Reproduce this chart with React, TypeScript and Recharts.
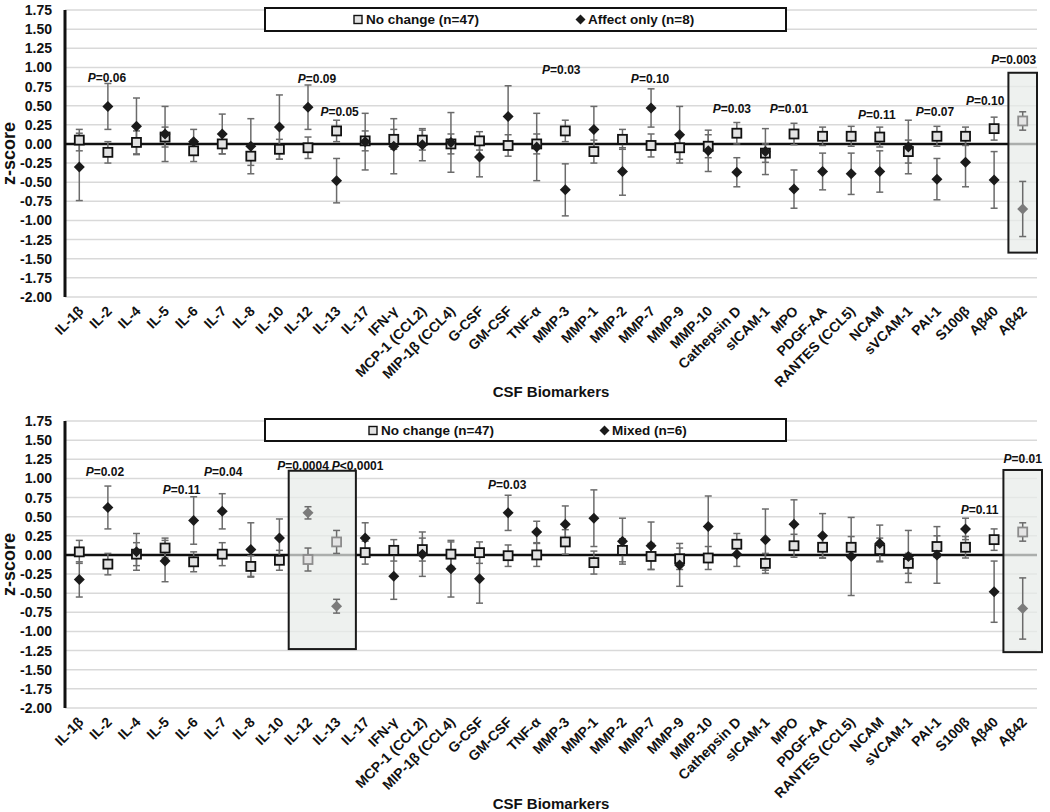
import {
  CartesianGrid,
  ComposedChart,
  ErrorBar,
  Line,
  ReferenceArea,
  ReferenceDot,
  ReferenceLine,
  XAxis,
  YAxis,
} from "recharts";

const FONT = '"Liberation Sans", Arial, Helvetica, sans-serif';

const categories = [
  "IL-1β", "IL-2", "IL-4", "IL-5", "IL-6", "IL-7", "IL-8", "IL-10", "IL-12", "IL-13",
  "IL-17", "IFN-γ", "MCP-1 (CCL2)", "MIP-1β (CCL4)", "G-CSF", "GM-CSF", "TNF-α", "MMP-3",
  "MMP-1", "MMP-2", "MMP-7", "MMP-9", "MMP-10", "Cathepsin D", "sICAM-1", "MPO",
  "PDGF-AA", "RANTES (CCL5)", "NCAM", "sVCAM-1", "PAI-1", "S100β", "Aβ40", "Aβ42",
];

// panel A: no change vs affect only
const noChangeA = [
  0.05, -0.11, 0.02, 0.09, -0.09, 0.0, -0.16, -0.07, -0.05, 0.17,
  0.04, 0.06, 0.05, 0.0, 0.04, -0.02, 0.0, 0.17,
  -0.1, 0.06, -0.02, -0.05, -0.03, 0.14, -0.12, 0.13,
  0.1, 0.1, 0.09, -0.1, 0.1, 0.1, 0.2, 0.3,
];
const noChangeAErr = [
  0.14, 0.14, 0.15, 0.13, 0.14, 0.13, 0.12, 0.13, 0.14, 0.14,
  0.13, 0.13, 0.13, 0.13, 0.12, 0.14, 0.13, 0.14,
  0.15, 0.13, 0.15, 0.15, 0.15, 0.14, 0.12, 0.14,
  0.12, 0.13, 0.13, 0.15, 0.13, 0.12, 0.15, 0.12,
];
const affectOnly = [
  -0.3, 0.49, 0.23, 0.13, 0.03, 0.13, -0.03, 0.22, 0.48, -0.48,
  0.03, -0.03, -0.01, 0.02, -0.17, 0.36, -0.04, -0.6,
  0.19, -0.36, 0.47, 0.12, -0.09, -0.37, -0.1, -0.59,
  -0.36, -0.39, -0.36, -0.04, -0.46, -0.24, -0.47, -0.85,
];
const affectOnlyErr = [
  0.44, 0.3, 0.37, 0.36, 0.16, 0.26, 0.36, 0.42, 0.29, 0.29,
  0.37, 0.36, 0.21, 0.39, 0.26, 0.4, 0.44, 0.34,
  0.3, 0.31, 0.25, 0.37, 0.27, 0.19, 0.3, 0.25,
  0.24, 0.27, 0.27, 0.35, 0.27, 0.32, 0.37, 0.36,
];

// panel B: no change vs mixed
const noChangeB = [
  0.04, -0.12, 0.01, 0.09, -0.09, 0.01, -0.15, -0.07, -0.06, 0.17,
  0.03, 0.06, 0.07, 0.01, 0.03, -0.01, 0.0, 0.17,
  -0.1, 0.06, -0.02, -0.05, -0.04, 0.14, -0.11, 0.12,
  0.1, 0.1, 0.07, -0.11, 0.11, 0.1, 0.2, 0.3,
];
const noChangeBErr = [
  0.15, 0.14, 0.15, 0.13, 0.13, 0.15, 0.14, 0.13, 0.15, 0.15,
  0.15, 0.14, 0.15, 0.16, 0.14, 0.14, 0.15, 0.16,
  0.15, 0.15, 0.17, 0.14, 0.15, 0.14, 0.13, 0.15,
  0.14, 0.14, 0.15, 0.13, 0.14, 0.14, 0.14, 0.12,
];
const mixed = [
  -0.32, 0.62, 0.04, -0.08, 0.45, 0.57, 0.07, 0.22, 0.55, -0.67,
  0.22, -0.28, 0.01, -0.18, -0.31, 0.55, 0.3, 0.4,
  0.48, 0.18, 0.12, -0.13, 0.37, 0.01, 0.2, 0.4,
  0.25, -0.02, 0.15, -0.02, 0.0, 0.34, -0.48, -0.7,
];
const mixedErr = [
  0.23, 0.28, 0.24, 0.27, 0.31, 0.23, 0.35, 0.25, 0.08, 0.09,
  0.2, 0.3, 0.29, 0.37, 0.32, 0.23, 0.14, 0.24,
  0.37, 0.3, 0.31, 0.28, 0.4, 0.16, 0.4, 0.32,
  0.29, 0.51, 0.24, 0.34, 0.37, 0.14, 0.4, 0.4,
];

const yTicks = [-2, -1.75, -1.5, -1.25, -1, -0.75, -0.5, -0.25, 0, 0.25, 0.5, 0.75, 1, 1.25, 1.5, 1.75];

type Note = { at: string; text: string; y: number; dx: number };

const notesA: Note[] = [
  { at: "IL-2", text: "=0.06", y: 0.87, dx: -1 },
  { at: "IL-12", text: "=0.09", y: 0.85, dx: 9 },
  { at: "IL-13", text: "=0.05", y: 0.42, dx: 3 },
  { at: "MMP-3", text: "=0.03", y: 0.97, dx: -4 },
  { at: "MMP-7", text: "=0.10", y: 0.85, dx: -1 },
  { at: "Cathepsin D", text: "=0.03", y: 0.46, dx: -5 },
  { at: "MPO", text: "=0.01", y: 0.46, dx: -5 },
  { at: "NCAM", text: "=0.11", y: 0.38, dx: -3 },
  { at: "PAI-1", text: "=0.07", y: 0.42, dx: -2 },
  { at: "Aβ40", text: "=0.10", y: 0.57, dx: -9 },
  { at: "Aβ42", text: "=0.003", y: 1.1, dx: -9 },
];

const notesB: Note[] = [
  { at: "IL-2", text: "=0.02", y: 1.08, dx: -3 },
  { at: "IL-6", text: "=0.11", y: 0.85, dx: -12 },
  { at: "IL-7", text: "=0.04", y: 1.08, dx: 1 },
  { at: "IL-12", text: "=0.0004", y: 1.16, dx: -5 },
  { at: "IL-13", text: "<0.0001", y: 1.16, dx: 21 },
  { at: "GM-CSF", text: "=0.03", y: 0.91, dx: -1 },
  { at: "S100β", text: "=0.11", y: 0.59, dx: 14 },
  { at: "Aβ42", text: "=0.01", y: 1.25, dx: 0 },
];

type Box = { x1: string; x2: string; y1: number; y2: number };
const boxesA: Box[] = [{ x1: "Aβ42", x2: "Aβ42", y1: -1.42, y2: 0.93 }];
const boxesB: Box[] = [
  { x1: "IL-12", x2: "IL-13", y1: -1.23, y2: 1.1 },
  { x1: "Aβ42", x2: "Aβ42", y1: -1.27, y2: 1.11 },
];

const XTick = (props: any) => {
  const { x, y, payload } = props;
  const tx = x + 5;
  const ty = y + 7;
  return (
    <text
      x={tx}
      y={ty}
      transform={`rotate(-45, ${tx}, ${ty})`}
      textAnchor="end"
      fontFamily={FONT}
      fontWeight="bold"
      fontSize={14}
      fill="#111"
    >
      {payload.value}
    </text>
  );
};

const SquareMark = ({ cx, cy, hi }: { cx: number; cy: number; hi: boolean }) => (
  <rect
    x={cx - 4.5}
    y={cy - 4.5}
    width={9}
    height={9}
    fill={hi ? "#e4e4e4" : "#e2e2e2"}
    stroke={hi ? "#8c8c8c" : "#111"}
    strokeWidth={1.8}
  />
);

const DiamondMark = ({ cx, cy, hi }: { cx: number; cy: number; hi: boolean }) => (
  <path
    d={`M${cx},${cy - 5.5} L${cx + 5.5},${cy} L${cx},${cy + 5.5} L${cx - 5.5},${cy} Z`}
    fill={hi ? "#7b7b7b" : "#1b1b1b"}
  />
);

interface LegendItem {
  left: number;
  label: string;
  kind: "square" | "diamond";
}

function LegendBox({ top, height, items }: { top: number; height: number; items: LegendItem[] }) {
  return (
    <div
      style={{
        position: "absolute",
        left: 264,
        top,
        width: 523,
        height,
        border: "2px solid #111",
        boxSizing: "border-box",
        background: "#fff",
      }}
    >
      {items.map((it) => (
        <div
          key={it.label}
          style={{
            position: "absolute",
            left: it.left,
            top: 0,
            height: height - 4,
            display: "flex",
            alignItems: "center",
            fontFamily: FONT,
            fontWeight: "bold",
            fontSize: 13.5,
            color: "#111",
            whiteSpace: "nowrap",
          }}
        >
          <svg width={11} height={11} style={{ marginRight: 2 }}>
            {it.kind === "square" ? (
              <rect x={1} y={1.5} width={8} height={8} fill="#e2e2e2" stroke="#111" strokeWidth={1.4} />
            ) : (
              <path d="M5.5,0.5 L10.5,5.5 L5.5,10.5 L0.5,5.5 Z" fill="#1b1b1b" />
            )}
          </svg>
          <span>{it.label}</span>
        </div>
      ))}
    </div>
  );
}

interface PanelProps {
  height: number;
  marginTop: number;
  sq: number[];
  sqErr: number[];
  dm: number[];
  dmErr: number[];
  notes: Note[];
  boxes: Box[];
  boxPad: number;
  legendTop: number;
  legendHeight: number;
  legend: LegendItem[];
}

function Panel(props: PanelProps) {
  const { height, marginTop, sq, sqErr, dm, dmErr, notes, boxes, boxPad } = props;
  const data = categories.map((name, i) => ({
    name,
    nc: sq[i],
    ncErr: sqErr[i],
    grp: dm[i],
    grpErr: dmErr[i],
  }));
  const hi = new Set<string>();
  boxes.forEach((b) => {
    const a = categories.indexOf(b.x1);
    const z = categories.indexOf(b.x2);
    for (let i = a; i <= z; i++) hi.add(categories[i]);
  });
  const plotH = 287;
  const axisH = height - marginTop - plotH;

  return (
    <div style={{ position: "relative", width: 1050, height }}>
      <ComposedChart
        width={1050}
        height={height}
        data={data}
        margin={{ top: marginTop, right: 13, bottom: 0, left: 0 }}
      >
        <CartesianGrid vertical={false} stroke="#d9d9d9" strokeWidth={1.5} />
        <XAxis
          dataKey="name"
          scale="band"
          interval={0}
          axisLine={false}
          tickLine={false}
          height={axisH}
          tick={<XTick />}
          label={{
            content: (p: any) => {
              const vb = p.viewBox;
              return (
                <text
                  x={vb.x + vb.width / 2}
                  y={vb.y + vb.height - 3}
                  textAnchor="middle"
                  fontFamily={FONT}
                  fontWeight="bold"
                  fontSize={15}
                  fill="#111"
                >
                  CSF Biomarkers
                </text>
              );
            },
          }}
        />
        <YAxis
          width={65}
          domain={[-2, 1.75]}
          ticks={yTicks}
          interval={0}
          allowDataOverflow
          tickFormatter={(v: number) => v.toFixed(2)}
          tickLine={false}
          tickMargin={7}
          axisLine={{ stroke: "#111", strokeWidth: 3 }}
          tick={{ fill: "#111", fontSize: 14, fontWeight: "bold", fontFamily: FONT }}
          label={{
            content: (p: any) => {
              const vb = p.viewBox;
              const cy = vb.y + vb.height / 2;
              return (
                <text
                  x={15}
                  y={cy}
                  transform={`rotate(-90, 15, ${cy})`}
                  textAnchor="middle"
                  fontFamily={FONT}
                  fontWeight="bold"
                  fontSize={18}
                  fill="#111"
                >
                  z-score
                </text>
              );
            },
          }}
        />
        <ReferenceLine y={0} stroke="#111" strokeWidth={2.5} zIndex={50} />
        {boxes.map((b) => (
          <ReferenceArea
            key={b.x1 + b.x2}
            x1={b.x1}
            x2={b.x2}
            y1={b.y1}
            y2={b.y2}
            zIndex={60}
            shape={(p: any) => (
              <rect
                x={p.x - boxPad}
                y={p.y}
                width={p.width + boxPad * 2}
                height={p.height}
                fill="#e8ebe9"
                fillOpacity={0.72}
                stroke="#1a1a1a"
                strokeWidth={2}
              />
            )}
          />
        ))}
        <Line
          dataKey="nc"
          stroke="none"
          isAnimationActive={false}
          activeDot={false}
          dot={(p: any) => (
            <SquareMark key={`s${p.index}`} cx={p.cx} cy={p.cy} hi={hi.has(p.payload.name)} />
          )}
        >
          <ErrorBar dataKey="ncErr" width={3.5} stroke="#6b6b6b" strokeWidth={1.5} />
        </Line>
        <Line
          dataKey="grp"
          stroke="none"
          isAnimationActive={false}
          activeDot={false}
          dot={(p: any) => (
            <DiamondMark key={`d${p.index}`} cx={p.cx} cy={p.cy} hi={hi.has(p.payload.name)} />
          )}
        >
          <ErrorBar dataKey="grpErr" width={3.5} stroke="#6b6b6b" strokeWidth={1.5} />
        </Line>
        {notes.map((n) => (
          <ReferenceDot
            key={n.at + n.text}
            x={n.at}
            y={n.y}
            r={0}
            shape={(p: any) => (
              <text
                x={p.cx + n.dx}
                y={p.cy}
                dy="0.35em"
                textAnchor="middle"
                fontFamily={FONT}
                fontWeight="bold"
                fontSize={12}
                fill="#111"
              >
                <tspan fontStyle="italic">P</tspan>
                {n.text}
              </text>
            )}
          />
        ))}
      </ComposedChart>
      <LegendBox top={props.legendTop} height={props.legendHeight} items={props.legend} />
    </div>
  );
}

export default function App() {
  return (
    <div style={{ position: "absolute", left: 0, top: 0, width: 1050, height: 812, background: "#fff" }}>
      <Panel
        height={400}
        marginTop={10}
        sq={noChangeA}
        sqErr={noChangeAErr}
        dm={affectOnly}
        dmErr={affectOnlyErr}
        notes={notesA}
        boxes={boxesA}
        boxPad={0}
        legendTop={7}
        legendHeight={25}
        legend={[
          { left: 87, label: "No change (n=47)", kind: "square" },
          { left: 309, label: "Affect only (n=8)", kind: "diamond" },
        ]}
      />
      <Panel
        height={412}
        marginTop={21}
        sq={noChangeB}
        sqErr={noChangeBErr}
        dm={mixed}
        dmErr={mixedErr}
        notes={notesB}
        boxes={boxesB}
        boxPad={5}
        legendTop={18}
        legendHeight={24}
        legend={[
          { left: 102, label: "No change (n=47)", kind: "square" },
          { left: 333, label: "Mixed (n=6)", kind: "diamond" },
        ]}
      />
    </div>
  );
}
